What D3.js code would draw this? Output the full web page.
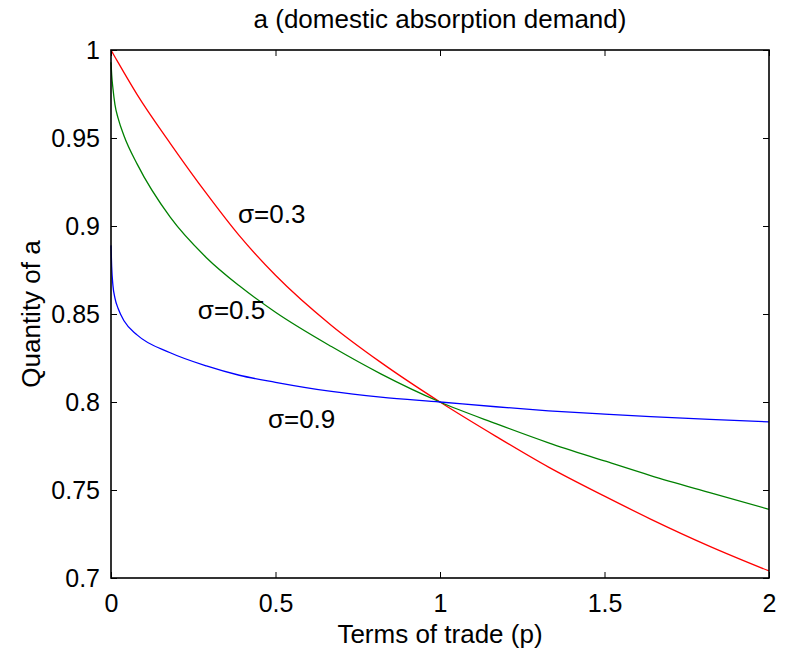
<!DOCTYPE html>
<html>
<head>
<meta charset="utf-8">
<script src="https://cdn.jsdelivr.net/npm/d3@7"></script>
<style>
  html, body { margin: 0; padding: 0; background: #fff; }
  svg { display: block; font-family: "Liberation Sans", Arial, Helvetica, sans-serif; }
</style>
</head>
<body>
<svg id="chart" width="790" height="654"></svg>
<script>
// ---- data ----
const titleText = "a (domestic absorption demand)";
const xLabelText = "Terms of trade (p)";
const yLabelText = "Quantity of a";

const p = [0, 0.002, 0.006, 0.012, 0.022, 0.04, 0.08, 0.18, 0.29, 0.39, 0.5, 0.67, 0.82, 1.0, 1.17, 1.33, 1.5, 1.64, 1.82, 2.0];

const sigma03 = [1.000, 0.9993, 0.998, 0.996, 0.9928, 0.987, 0.9745, 0.947, 0.9185, 0.8945, 0.872, 0.8435, 0.8225, 0.800, 0.7805, 0.763, 0.7465, 0.7335, 0.718, 0.704];
const sigma05 = [0.993, 0.986, 0.978, 0.969, 0.961, 0.951, 0.935, 0.905, 0.882, 0.866, 0.851, 0.8315, 0.816, 0.800, 0.7877, 0.7768, 0.7665, 0.7582, 0.7485, 0.739];
const sigma09 = [0.889, 0.877, 0.866, 0.859, 0.853, 0.846, 0.838, 0.828, 0.8205, 0.8152, 0.8112, 0.806, 0.8028, 0.800, 0.7973, 0.795, 0.7931, 0.7917, 0.7901, 0.7887];

const seriesNames = ["σ=0.3", "σ=0.5", "σ=0.9"];
const seriesColors = ["#ff0000", "#008000", "#0000ff"];
const seriesValues = [sigma03, sigma05, sigma09];

// label anchor points (data coordinates, start of text baseline)
const labelP = [0.386, 0.264, 0.477];
const labelV = [0.9016, 0.847, 0.785];

const xTicks = [0, 0.5, 1, 1.5, 2];
const yTicks = [0.7, 0.75, 0.8, 0.85, 0.9, 0.95, 1];

// ---- layout ----
const W = 790, H = 654;
const margin = { left: 111, right: 21, top: 50, bottom: 76 };
const iw = W - margin.left - margin.right;
const ih = H - margin.top - margin.bottom;

const svg = d3.select("#chart");
const g = svg.append("g").attr("transform", `translate(${margin.left},${margin.top})`);

const x = d3.scaleLinear().domain([0, 2]).range([0, iw]);
const y = d3.scaleLinear().domain([0.7, 1]).range([ih, 0]);

const fmt = d => d3.format("")(+d.toFixed(2));

// lines
const line = d3.line().x(d => x(d[0])).y(d => y(d[1])).curve(d3.curveMonotoneX);
seriesValues.forEach((vals, i) => {
  g.append("path")
    .datum(p.map((pv, j) => [pv, vals[j]]))
    .attr("fill", "none")
    .attr("stroke", seriesColors[i])
    .attr("stroke-width", 1.3)
    .attr("d", line);
});

// axes (ticks inside, on all four sides)
const tickLen = 6;
const axB = d3.axisBottom(x).tickValues(xTicks).tickFormat(fmt).tickSizeInner(-tickLen).tickSizeOuter(0).tickPadding(16);
const axT = d3.axisTop(x).tickValues(xTicks).tickFormat("").tickSizeInner(-tickLen).tickSizeOuter(0);
const axL = d3.axisLeft(y).tickValues(yTicks).tickFormat(fmt).tickSizeInner(-tickLen).tickSizeOuter(0).tickPadding(11);
const axR = d3.axisRight(y).tickValues(yTicks).tickFormat("").tickSizeInner(-tickLen).tickSizeOuter(0);

function style(sel) {
  sel.select(".domain").remove();
  sel.selectAll(".tick line").attr("stroke", "#000").attr("stroke-width", 1);
  sel.selectAll(".tick text").attr("fill", "#000").style("font-size", "25px").style("font-family", '"Liberation Sans", Arial, sans-serif');
}
g.append("g").attr("transform", `translate(0,${ih})`).call(axB).call(style);
g.append("g").call(axT).call(style);
g.append("g").call(axL).call(style);
g.append("g").attr("transform", `translate(${iw},0)`).call(axR).call(style);

// box
g.append("rect").attr("x", 0).attr("y", 0).attr("width", iw).attr("height", ih)
  .attr("fill", "none").attr("stroke", "#000").attr("stroke-width", 1.6);

// series labels
seriesNames.forEach((name, i) => {
  g.append("text")
    .attr("x", x(labelP[i]))
    .attr("y", y(labelV[i]))
    .attr("fill", "#000")
    .style("font-size", "26px")
    .text(name);
});

// title and axis labels
svg.append("text")
  .attr("x", margin.left + iw / 2).attr("y", 28)
  .attr("text-anchor", "middle").style("font-size", "26px").attr("fill", "#000")
  .text(titleText);

svg.append("text")
  .attr("x", margin.left + iw / 2).attr("y", 643)
  .attr("text-anchor", "middle").style("font-size", "26px").attr("fill", "#000")
  .text(xLabelText);

svg.append("text")
  .attr("transform", `translate(40,${margin.top + ih / 2}) rotate(-90)`)
  .attr("text-anchor", "middle").style("font-size", "26px").attr("fill", "#000")
  .text(yLabelText);
</script>
</body>
</html>
